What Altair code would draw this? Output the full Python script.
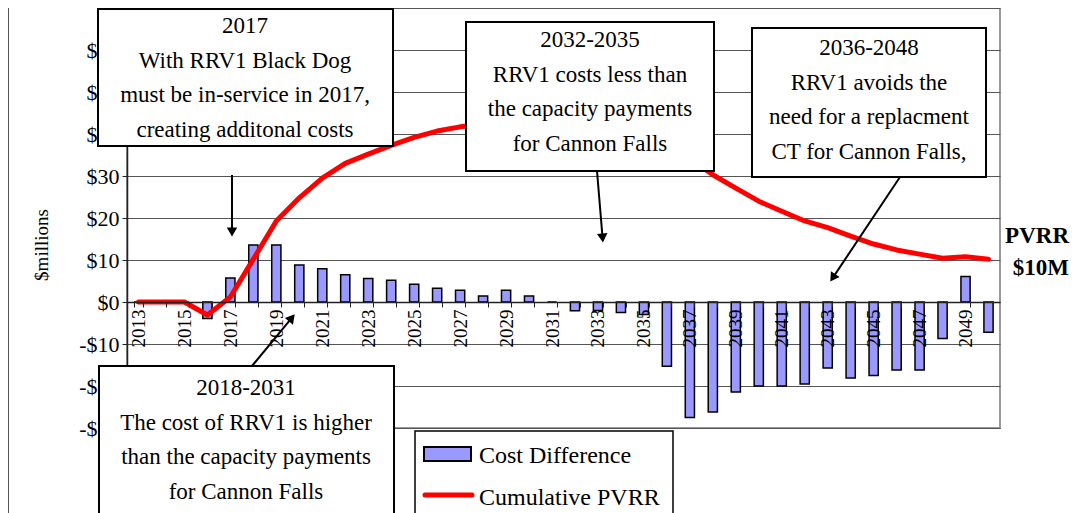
import math
import altair as alt
import pandas as pd

# ---------------- data ----------------
years = list(range(2013, 2051))
cost_diff = [0, 0, 0, -3.9, 5.7, 13.6, 13.6, 8.8, 7.9, 6.5, 5.6, 5.2, 4.2, 3.3,
             2.8, 1.4, 2.8, 1.4, 0, -2.1, -2.0, -2.5, -3.0, -15.3, -27.5, -26.2,
             -21.4, -20.0, -20.0, -19.5, -15.7, -18.1, -17.5, -16.2, -16.2, -8.7,
             6.1, -7.2]
cum_pvrr = [0, 0, 0, -3.1, 1.2, 10.2, 19.3, 24.8, 29.5, 33.0, 35.2, 37.3, 39.2,
            40.7, 41.7, 42.3, 42.8, 43.2, 43.2, 42.8, 42.4, 41.9, 41.3, 38.6, 34.2,
            30.3, 27.1, 24.0, 21.6, 19.3, 17.7, 15.7, 13.8, 12.4, 11.4, 10.4, 10.8,
            10.2]
y_ticks = [-30, -20, -10, 0, 10, 20, 30, 40, 50, 60, 70]

series_names = ["Cost Difference", "Cumulative PVRR"]
note_texts = [
    "2017\nWith RRV1 Black Dog\nmust be in-service in 2017,\ncreating additonal costs",
    "2032-2035\nRRV1 costs less than\nthe capacity payments\nfor Cannon Falls",
    "2036-2048\nRRV1 avoids the\nneed for a replacment\nCT for Cannon Falls,",
    "2018-2031\nThe cost of RRV1 is higher\nthan the capacity payments\nfor Cannon Falls",
]
side_label = ["PVRR", "$10M"]
y_title = "$millions"

df = pd.DataFrame({"year": years, "cost": cost_diff, "pvrr": cum_pvrr})
one = pd.DataFrame({"k": [0]})

FONT = "Liberation Serif"
W, H = 873, 420
Y_MIN, Y_MAX = -30, 70
zero_px = H * Y_MAX / (Y_MAX - Y_MIN)

y_scale = alt.Scale(domain=[Y_MIN, Y_MAX], nice=False, zero=False)

x_enc = alt.X(
    "year:O",
    scale=alt.Scale(paddingInner=0.6, paddingOuter=0.3),
    axis=alt.Axis(
        title=None, labelAngle=-90,
        labelExpr="datum.value % 2 == 1 ? datum.label : ''",
        offset=-(H - zero_px), tickBand="extent", tickSize=5, labelPadding=2,
        labelFontSize=19, labelFont=FONT, labelColor="black",
        domainColor="#222", domainWidth=1.5, tickColor="#222", grid=False,
        zindex=1, labelOverlap=False,
    ),
)

y_enc = alt.Y(
    "cost:Q", scale=y_scale,
    axis=alt.Axis(
        values=y_ticks, title=None,
        labelExpr=("datum.value >= 70 ? '' : (datum.value < 0 ? '-$' + abs(datum.value)"
                   " : '$' + datum.value)"),
        grid=True, gridColor="#555", gridWidth=1, tickSize=5, tickColor="#222",
        domainColor="#222", domainWidth=1.5, labelFont=FONT, labelFontSize=22,
        labelColor="black", labelPadding=3, zindex=0,
    ),
)

bars = alt.Chart(df).mark_bar(fill="#9999FF", stroke="black", strokeWidth=1.5).encode(
    x=x_enc, y=y_enc
)
line = alt.Chart(df).mark_line(
    color="#FF0000", strokeWidth=5, strokeCap="round", strokeJoin="round"
).encode(x=alt.X("year:O"), y=alt.Y("pvrr:Q", scale=y_scale))

# ---------------- annotations (pixel layout relative to plot origin) ----------------
layers = [bars, line]


def box(x1, y1, x2, y2, sw=2):
    return alt.Chart(one).mark_rect(fill="white", stroke="black", strokeWidth=sw).encode(
        x=alt.value(x1), x2=alt.value(x2), y=alt.value(y1), y2=alt.value(y2)
    )


def mtext(t, x, y, size=23, align="center", weight="normal", angle=0, lh=34.5):
    return alt.Chart(one).mark_text(
        font=FONT, fontSize=size, align=align, baseline="alphabetic", lineBreak="\n",
        lineHeight=lh, fontWeight=weight, angle=angle, color="black",
    ).encode(x=alt.value(x), y=alt.value(y), text=alt.value(t))


def arrow(x1, y1, x2, y2):
    dx, dy = x2 - x1, y2 - y1
    L = math.hypot(dx, dy)
    ang = math.degrees(math.atan2(dx, -dy)) % 360
    hx, hy = x2 - dx / L * 5, y2 - dy / L * 5
    shaft = alt.Chart(one).mark_rule(color="black", strokeWidth=2).encode(
        x=alt.value(x1), y=alt.value(y1), x2=alt.value(hx), y2=alt.value(hy)
    )
    head = alt.Chart(one).mark_point(
        shape="triangle-up", filled=True, fill="black", opacity=1, size=110, angle=ang,
        strokeWidth=0,
    ).encode(x=alt.value(hx), y=alt.value(hy))
    return [shaft, head]


# outer chart border (left)
layers.append(alt.Chart(one).mark_rule(color="#555", strokeWidth=1).encode(
    x=alt.value(-118.5), y=alt.value(-10), y2=alt.value(520)))

# y title and right-side label
layers.append(mtext(y_title, -79, 237, size=19, angle=270))
layers.append(mtext("\n".join(side_label), 942, 235, size=23, align="right",
                    weight="bold", lh=32))

# annotation boxes
boxes = [
    (-29, 1, 266, 138, 118, 25),
    (339, 14, 587, 163, 463, 39),
    (625, 20, 859, 169, 742, 47),
    (-28, 358, 267, 520, 119, 387),
]
for (x1, y1, x2, y2, cx, ty), t in zip(boxes, note_texts):
    layers.append(box(x1, y1, x2, y2))
    layers.append(mtext(t, cx, ty))

for a in [(105, 167, 105, 229), (125, 358, 168, 306), (470, 163, 476, 235),
          (773, 169, 703, 274)]:
    layers.extend(arrow(*a))

# custom legend
layers.append(box(288, 423, 546, 520, sw=1.5))
layers.append(alt.Chart(one).mark_rect(fill="#9999FF", stroke="black", strokeWidth=2).encode(
    x=alt.value(297), x2=alt.value(344), y=alt.value(439), y2=alt.value(453)))
layers.append(alt.Chart(one).mark_rule(color="#FF0000", strokeWidth=5, strokeCap="round").encode(
    x=alt.value(298), x2=alt.value(345), y=alt.value(487)))
layers.append(mtext(series_names[0], 352, 455, size=24, align="left"))
layers.append(mtext(series_names[1], 352, 497, size=24, align="left"))

chart = alt.layer(*layers).properties(
    width=W, height=H,
    autosize=alt.AutoSizeParams(type="none"),
    padding={"left": 119, "top": 0, "right": 70, "bottom": 85},
    background="white",
).configure_view(stroke="#999", strokeWidth=2)

chart.save("out.html", embed_options={"renderer": "svg", "actions": False})
